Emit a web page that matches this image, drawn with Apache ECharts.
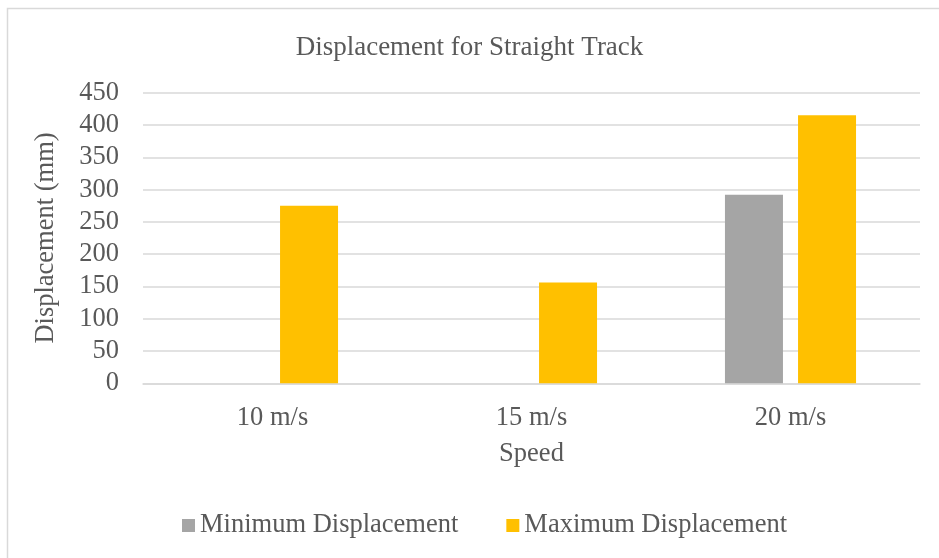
<!DOCTYPE html>
<html>
<head>
<meta charset="utf-8">
<title>Displacement for Straight Track</title>
<script src="https://cdn.jsdelivr.net/npm/echarts@6/dist/echarts.min.js"></script>
<style>
  html, body { margin: 0; padding: 0; background: #ffffff; }
  #chart { width: 939px; height: 558px; }
</style>
</head>
<body>
<div id="chart"></div>
<script>
// Speeds on the category axis
const speeds = ['10 m/s', '15 m/s', '20 m/s'];
// Displacement values in mm
const minDisplacement = [0, 0, 292];
const maxDisplacement = [275, 156, 415];
// Value axis range and step
const yMin = 0;
const yMax = 450;
const yStep = 50;

const textColor = '#595959';
const fontFamily = '"Liberation Serif", "Times New Roman", serif';

const chart = echarts.init(document.getElementById('chart'));

chart.setOption({
  backgroundColor: '#ffffff',
  animation: false,
  textStyle: { fontFamily: fontFamily, color: textColor },
  graphic: [
    {
      type: 'polyline',
      shape: { points: [[7.5, 560], [7.5, 8.5], [945, 8.5]] },
      style: { stroke: '#d9d9d9', lineWidth: 1.5, fill: null }
    }
  ],
  title: {
    text: 'Displacement for Straight Track',
    left: 'center',
    top: 29,
    textStyle: { fontFamily: fontFamily, fontSize: 27, fontWeight: 'normal', color: textColor }
  },
  legend: {
    left: 177,
    top: 507,
    icon: 'rect',
    itemWidth: 13,
    itemHeight: 13,
    itemGap: 48,
    textStyle: { fontFamily: fontFamily, fontSize: 26.5, color: textColor },
    data: ['Minimum Displacement', 'Maximum Displacement']
  },
  grid: {
    left: 143,
    right: 19,
    top: 92.7,
    bottom: 174.7,
    containLabel: false
  },
  xAxis: {
    type: 'category',
    data: speeds,
    name: 'Speed',
    nameLocation: 'middle',
    nameGap: 57,
    nameTextStyle: { fontFamily: fontFamily, fontSize: 26.5, color: textColor },
    axisLine: { show: true, lineStyle: { color: '#d9d9d9', width: 1.5 } },
    axisTick: { show: false },
    axisLabel: { fontFamily: fontFamily, fontSize: 26.5, color: textColor, margin: 21 }
  },
  yAxis: {
    type: 'value',
    min: yMin,
    max: yMax,
    interval: yStep,
    name: 'Displacement (mm)',
    nameLocation: 'middle',
    nameGap: 83,
    nameTextStyle: { fontFamily: fontFamily, fontSize: 26.5, color: textColor },
    axisLine: { show: false },
    axisTick: { show: false },
    axisLabel: { fontFamily: fontFamily, fontSize: 26.5, color: textColor, margin: 24 },
    splitLine: { lineStyle: { color: '#d9d9d9', width: 1.5 } }
  },
  series: [
    {
      name: 'Minimum Displacement',
      type: 'bar',
      data: minDisplacement,
      barWidth: 58,
      barGap: '26%',
      itemStyle: { color: '#a5a5a5' }
    },
    {
      name: 'Maximum Displacement',
      type: 'bar',
      data: maxDisplacement,
      barWidth: 58,
      barGap: '26%',
      itemStyle: { color: '#ffc000' }
    }
  ]
});
</script>
</body>
</html>
